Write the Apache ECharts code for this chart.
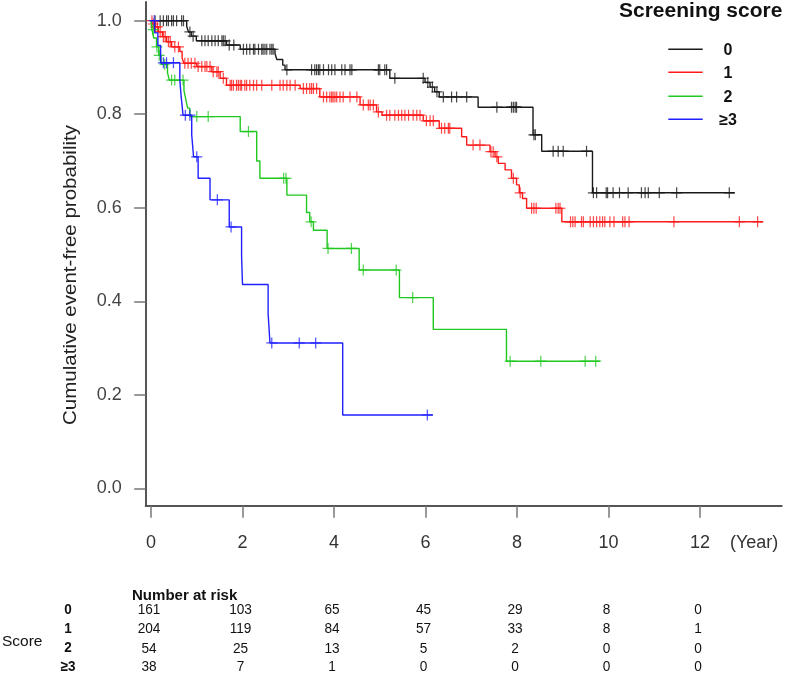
<!DOCTYPE html>
<html><head><meta charset="utf-8">
<script src="https://cdn.jsdelivr.net/npm/echarts@6/dist/echarts.min.js"></script>
<style>html,body{margin:0;padding:0;background:#fff}#c{width:787px;height:688px}</style>
</head><body><div id="c"></div>
<script>
// ---- data ----
const groupNames = ['0', '1', '2', '≥3'];

const times0 = [0, 0.78, 0.82, 0.88, 0.99, 1.65, 1.95, 2.71, 2.75, 2.88, 2.93, 5.22, 5.99, 6.1, 6.2, 6.3, 7.15, 8.35, 8.54, 9.65];
const surv0  = [1.0, 0.988, 0.976, 0.967, 0.957, 0.948, 0.939, 0.930, 0.917, 0.905, 0.895, 0.877, 0.868, 0.858, 0.848, 0.837, 0.815, 0.756, 0.721, 0.632];
const end0 = 12.76;
const censor0 = [0.09, 0.2, 0.27, 0.34, 0.38, 0.45, 0.49, 0.56, 0.67, 0.71, 0.85, 0.92, 1.11, 1.18, 1.25, 1.33, 1.4, 1.47, 1.55, 1.58, 1.62, 1.71, 1.81, 2.02, 2.09, 2.16, 2.24, 2.27, 2.35, 2.42, 2.45, 2.49, 2.53, 2.6, 2.64, 2.67, 2.97, 3.51, 3.58, 3.62, 3.66, 3.69, 3.77, 3.88, 3.95, 4.02, 4.17, 4.24, 4.35, 4.39, 4.97, 5.0, 5.11, 5.15, 5.33, 5.95, 6.05, 6.15, 6.25, 6.39, 6.57, 6.68, 6.9, 7.56, 7.88, 7.92, 7.96, 7.99, 8.37, 8.4, 8.79, 8.9, 9.01, 9.52, 9.67, 9.74, 9.95, 9.98, 10.1, 10.24, 10.43, 10.72, 10.8, 10.87, 11.11, 11.49, 12.64];

const times1 = [0, 0.03, 0.08, 0.16, 0.25, 0.34, 0.45, 0.63, 0.68, 0.72, 1.0, 1.33, 1.51, 1.65, 3.26, 3.69, 4.57, 4.93, 5.05, 5.95, 6.3, 6.79, 6.9, 7.41, 7.52, 7.59, 7.74, 7.88, 7.99, 8.05, 8.12, 8.21, 8.98];
const surv1  = [1.0, 0.993, 0.987, 0.976, 0.966, 0.955, 0.944, 0.934, 0.92, 0.909, 0.902, 0.891, 0.877, 0.862, 0.855, 0.837, 0.82, 0.805, 0.798, 0.786, 0.77, 0.752, 0.734, 0.72, 0.709, 0.695, 0.681, 0.663, 0.649, 0.632, 0.62, 0.599, 0.57];
const end1 = 13.38;
const censor1 = [0.02, 0.05, 0.1, 0.14, 0.2, 0.27, 0.31, 0.38, 0.42, 0.52, 0.6, 0.74, 0.81, 0.88, 0.96, 1.03, 1.11, 1.18, 1.22, 1.29, 1.36, 1.44, 1.47, 1.58, 1.73, 1.76, 1.8, 1.87, 1.91, 1.95, 1.98, 2.05, 2.09, 2.16, 2.24, 2.31, 2.42, 2.64, 2.82, 2.89, 2.97, 3.04, 3.15, 3.33, 3.4, 3.47, 3.51, 3.55, 3.62, 3.77, 3.84, 3.91, 3.95, 3.98, 4.02, 4.06, 4.13, 4.2, 4.35, 4.5, 4.64, 4.75, 4.79, 4.86, 4.97, 5.15, 5.22, 5.33, 5.41, 5.48, 5.55, 5.63, 5.73, 5.81, 5.88, 6.02, 6.1, 6.17, 6.35, 6.42, 6.5, 6.53, 7.04, 7.19, 7.43, 7.48, 7.56, 7.92, 8.07, 8.32, 8.37, 8.42, 8.85, 8.9, 8.94, 9.17, 9.22, 9.27, 9.41, 9.45, 9.6, 9.67, 9.74, 9.81, 9.87, 9.92, 10.03, 10.12, 10.31, 10.36, 10.45, 11.43, 12.86, 13.26];

const times2 = [0, 0.02, 0.06, 0.12, 0.17, 0.22, 0.36, 0.4, 0.72, 0.76, 0.8, 0.85, 1.95, 2.31, 2.38, 2.97, 3.4, 3.47, 3.55, 3.85, 4.55, 5.43, 6.17, 7.77];
const surv2  = [1.0, 0.981, 0.963, 0.944, 0.926, 0.907, 0.889, 0.873, 0.851, 0.832, 0.813, 0.795, 0.763, 0.70, 0.663, 0.627, 0.59, 0.57, 0.552, 0.513, 0.467, 0.408, 0.34, 0.272];
const end2 = 9.81;
const censor2 = [0.05, 0.13, 0.18, 0.3, 0.45, 0.52, 0.7, 1.0, 1.25, 2.13, 2.9, 2.95, 3.5, 3.87, 4.38, 4.64, 5.36, 5.72, 7.85, 8.52, 9.49, 9.72];

const times3 = [0, 0.08, 0.15, 0.21, 0.63, 0.66, 0.7, 0.89, 0.93, 1.03, 1.29, 1.71, 1.98, 2.0, 2.56, 2.6, 4.19];
const surv3  = [1.0, 0.974, 0.947, 0.91, 0.873, 0.837, 0.798, 0.756, 0.709, 0.663, 0.617, 0.559, 0.497, 0.436, 0.374, 0.311, 0.157];
const end3 = 6.16;
const censor3 = [0.07, 0.27, 0.34, 0.49, 0.75, 0.85, 1.0, 1.45, 1.75, 2.64, 3.24, 3.6, 6.04];

const xTicks = [0, 2, 4, 6, 8, 10, 12];
const yTicks = [0, 0.2, 0.4, 0.6, 0.8, 1.0];

const riskRowLabels = ['0', '1', '2', '≥3'];
const risk0 = [161, 103, 65, 45, 29, 8, 0];
const risk1 = [204, 119, 84, 57, 33, 8, 1];
const risk2 = [54, 25, 13, 5, 2, 0, 0];
const risk3 = [38, 7, 1, 0, 0, 0, 0];

// ---- styling / layout ----
const colors = ['#1a1a1a', '#ff1a1a', '#20c820', '#2020ff'];
const FONT = 'Liberation Sans, Arial, sans-serif';
const plusPath = 'path://M8.9,0H11.1V20H8.9Z M0,8.9H20V11.1H0Z';

const groups = [
  {t: times0, s: surv0, end: end0, c: censor0},
  {t: times1, s: surv1, end: end1, c: censor1},
  {t: times2, s: surv2, end: end2, c: censor2},
  {t: times3, s: surv3, end: end3, c: censor3}
];
const riskTable = [risk0, risk1, risk2, risk3];

function survAt(g, x) {
  let v = g.s[0];
  for (let i = 0; i < g.t.length; i++) if (g.t[i] <= x) v = g.s[i];
  return v;
}

const series = [];
groups.forEach((g, k) => {
  const d = g.t.map((t, i) => [t, g.s[i]]);
  d.push([g.end, g.s[g.s.length - 1]]);
  series.push({
    type: 'line', name: groupNames[k], step: 'end', data: d, symbol: 'none',
    lineStyle: {color: colors[k], width: 1.4}, itemStyle: {color: colors[k]},
    z: 2 + k, animation: false, silent: true
  });
  series.push({
    type: 'scatter', name: groupNames[k] + ' censored',
    data: g.c.map(t => [t, survAt(g, t)]),
    symbol: plusPath, symbolSize: 11,
    itemStyle: {color: colors[k]}, z: 2 + k, animation: false, silent: true
  });
});

const chart = echarts.init(document.getElementById('c'), null, {renderer: 'canvas'});
chart.setOption({
  backgroundColor: '#fff',
  animation: false,
  grid: {left: 145.7, top: 2, width: 636, height: 503.7, containLabel: false, outerBoundsMode: 'none'},
  xAxis: {
    type: 'value', min: -0.116, max: 13.786,
    axisLine: {show: true, onZero: false, lineStyle: {color: '#555', width: 2}},
    axisTick: {show: true, length: 12, customValues: xTicks, lineStyle: {color: '#777', width: 1.5}},
    axisLabel: {customValues: xTicks, fontSize: 18, color: '#333', margin: 28, fontFamily: FONT},
    splitLine: {show: false}
  },
  yAxis: {
    type: 'value', min: -0.037, max: 1.04,
    axisLine: {show: true, onZero: false, lineStyle: {color: '#555', width: 2}},
    axisTick: {show: true, length: 11.5, customValues: yTicks, lineStyle: {color: '#777', width: 1.5}},
    axisLabel: {customValues: yTicks, fontSize: 18, color: '#444', margin: 24, fontFamily: FONT,
      formatter: v => v.toFixed(1)},
    splitLine: {show: false}
  },
  series: series
});

function txt(x, y, text, opt) {
  opt = opt || {};
  return {
    type: 'text', x: x, y: y, rotation: opt.rot || 0, scaleX: opt.sx || 1, silent: true,
    style: {
      text: text, fill: opt.color || '#111', fontSize: opt.size || 15,
      fontWeight: opt.bold ? 'bold' : 'normal', fontFamily: FONT,
      align: opt.align || 'center', verticalAlign: 'middle',
      textAlign: opt.align || 'center', textVerticalAlign: 'middle'
    }
  };
}

const g = [];
g.push(txt(730, 543, '(Year)', {align: 'left', size: 18, color: '#333'}));
g.push(txt(71, 275, 'Cumulative event-free probability', {rot: Math.PI / 2, size: 18, sx: 1.14, color: '#222'}));
g.push(txt(619, 11, 'Screening score', {align: 'left', size: 20, bold: true, sx: 1.05, color: '#111'}));
const legendY = [49.3, 72.3, 96.3, 119.3];
groupNames.forEach((n, k) => {
  g.push({type: 'line', silent: true, shape: {x1: 668.3, y1: legendY[k], x2: 702.7, y2: legendY[k]},
    style: {stroke: colors[k], lineWidth: 1.6}});
  g.push(txt(728, legendY[k] + 1, n, {size: 16, bold: true}));
});

g.push(txt(132, 596, 'Number at risk', {align: 'left', size: 15.5, bold: true, sx: 0.97}));
g.push(txt(2, 642, 'Score', {align: 'left', size: 15.5}));
const rowY = [609.5, 629, 648.3, 666.7];
riskRowLabels.forEach((lab, r) => {
  g.push(txt(68, rowY[r], lab, {size: 15, bold: true, sx: 0.9}));
  riskTable[r].forEach((v, c) => {
    const px = chart.convertToPixel({xAxisIndex: 0}, xTicks[c]);
    g.push(txt(px - 2, rowY[r], String(v), {size: 15.5, sx: 0.88}));
  });
});

chart.setOption({graphic: {elements: g}});
</script>
</body></html>
